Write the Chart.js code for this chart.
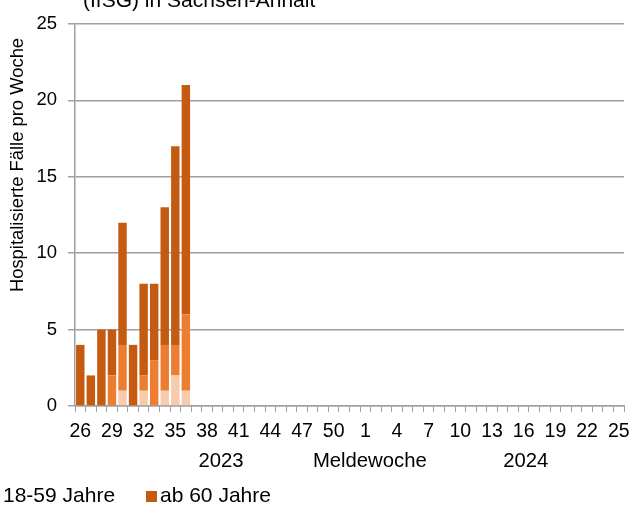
<!DOCTYPE html>
<html>
<head>
<meta charset="utf-8">
<script src="https://cdn.jsdelivr.net/npm/chart.js@4/dist/chart.umd.min.js"></script>
<style>
  html, body { margin: 0; padding: 0; background: #fff; }
  #wrap { width: 629px; height: 506px; position: relative; }
</style>
</head>
<body>
<div id="wrap"><canvas id="c" width="629" height="506"></canvas></div>
<script>
// Meldewochen: 2023 KW 26-52, 2024 KW 1-25
const weeks = [26,27,28,29,30,31,32,33,34,35,36,37,38,39,40,41,42,43,44,45,46,47,48,49,50,51,52,
               1,2,3,4,5,6,7,8,9,10,11,12,13,14,15,16,17,18,19,20,21,22,23,24,25];
const seriesNames = ["0-17 Jahre", "18-59 Jahre", "ab 60 Jahre"];
const age0_17  = [0,0,0,0,1,0,1,0,1,2,1,null,null,null,null,null,null,null,null,null,null,null,null,null,null,null,null,
                  null,null,null,null,null,null,null,null,null,null,null,null,null,null,null,null,null,null,null,null,null,null,null,null,null];
const age18_59 = [0,0,0,2,3,0,1,3,3,2,5,null,null,null,null,null,null,null,null,null,null,null,null,null,null,null,null,
                  null,null,null,null,null,null,null,null,null,null,null,null,null,null,null,null,null,null,null,null,null,null,null,null,null];
const age60    = [4,2,5,3,8,4,6,5,9,13,15,null,null,null,null,null,null,null,null,null,null,null,null,null,null,null,null,
                  null,null,null,null,null,null,null,null,null,null,null,null,null,null,null,null,null,null,null,null,null,null,null,null,null];
const yTicks = [0,5,10,15,20,25];
const titleText = "(IfSG) in Sachsen-Anhalt";
const yTitle = "Hospitalisierte Fälle pro Woche";
const xTitle = "Meldewoche";
const yearLabels = ["2023", "2024"];

const colors = ["#F8CBAD", "#ED7D31", "#C55A11"];
const FONT = "'Liberation Sans', Arial, sans-serif";
const gridColor = "#A0A0A0";

const extraText = {
  id: 'extraText',
  afterDraw(chart) {
    const ctx = chart.ctx;
    const xs = chart.scales.x;
    ctx.save();
    ctx.fillStyle = '#000';
    // title (only last line visible)
    ctx.font = "21px " + FONT;
    ctx.textAlign = 'left';
    ctx.textBaseline = 'alphabetic';
    ctx.fillText(titleText, 83, 7);
    // y axis title
    ctx.save();
    ctx.translate(18, 165);
    ctx.rotate(-Math.PI / 2);
    ctx.font = "18.4px " + FONT;
    ctx.textAlign = 'center';
    ctx.textBaseline = 'middle';
    ctx.fillText(yTitle, 0, 0);
    ctx.restore();
    // years + Meldewoche
    ctx.font = "20.3px " + FONT;
    ctx.textAlign = 'center';
    ctx.textBaseline = 'middle';
    const w = xs.right - xs.left;
    ctx.fillText(yearLabels[0], xs.left + 0.266 * w, 461);
    ctx.fillText(xTitle, xs.left + 0.537 * w, 461);
    ctx.fillText(yearLabels[1], xs.left + 0.821 * w, 461);
    // legend (cropped at left)
    ctx.font = "21px " + FONT;
    ctx.textAlign = 'left';
    ctx.fillText(seriesNames[1], 3, 496);
    ctx.fillStyle = colors[2];
    ctx.fillRect(146, 491, 11, 11);
    ctx.fillStyle = '#000';
    ctx.fillText(seriesNames[2], 160, 496);
    ctx.restore();
  }
};

new Chart(document.getElementById('c'), {
  type: 'bar',
  data: {
    labels: weeks,
    datasets: [
      { label: seriesNames[0], data: age0_17,  backgroundColor: colors[0] },
      { label: seriesNames[1], data: age18_59, backgroundColor: colors[1] },
      { label: seriesNames[2], data: age60,    backgroundColor: colors[2] }
    ]
  },
  options: {
    responsive: false,
    animation: false,
    events: [],
    layout: { padding: { top: 24, right: 5, left: 0, bottom: 0 } },
    datasets: { bar: { barPercentage: 0.8, categoryPercentage: 1.0, borderWidth: 0 } },
    plugins: { legend: { display: false }, tooltip: { enabled: false }, title: { display: false } },
    scales: {
      x: {
        stacked: true,
        grid: { display: true, drawOnChartArea: false, drawTicks: true, tickLength: 6, color: gridColor, lineWidth: 1, offset: true },
        border: { display: true, color: gridColor, width: 1.5 },
        ticks: {
          autoSkip: false, maxRotation: 0, minRotation: 0, padding: 8,
          color: '#000', font: { family: FONT, size: 19.5 },
          callback: function(v, i) { return i % 3 === 0 ? String(weeks[i]) : ''; }
        },
        afterFit(scale) { scale.height = 100; scale.paddingLeft = 0; scale.paddingRight = 0; }
      },
      y: {
        stacked: true,
        min: 0, max: 25,
        afterBuildTicks(scale) { scale.ticks = yTicks.map(v => ({ value: v })); },
        grid: { color: gridColor, lineWidth: 1.5, drawTicks: true, tickLength: 7 },
        border: { display: true, color: gridColor, width: 1.5 },
        ticks: { color: '#000', padding: 11, font: { family: FONT, size: 18.5 } },
        afterFit(scale) { scale.width = 75; scale.paddingTop = 0; scale.paddingBottom = 0; }
      }
    }
  },
  plugins: [extraText]
});
</script>
</body>
</html>
